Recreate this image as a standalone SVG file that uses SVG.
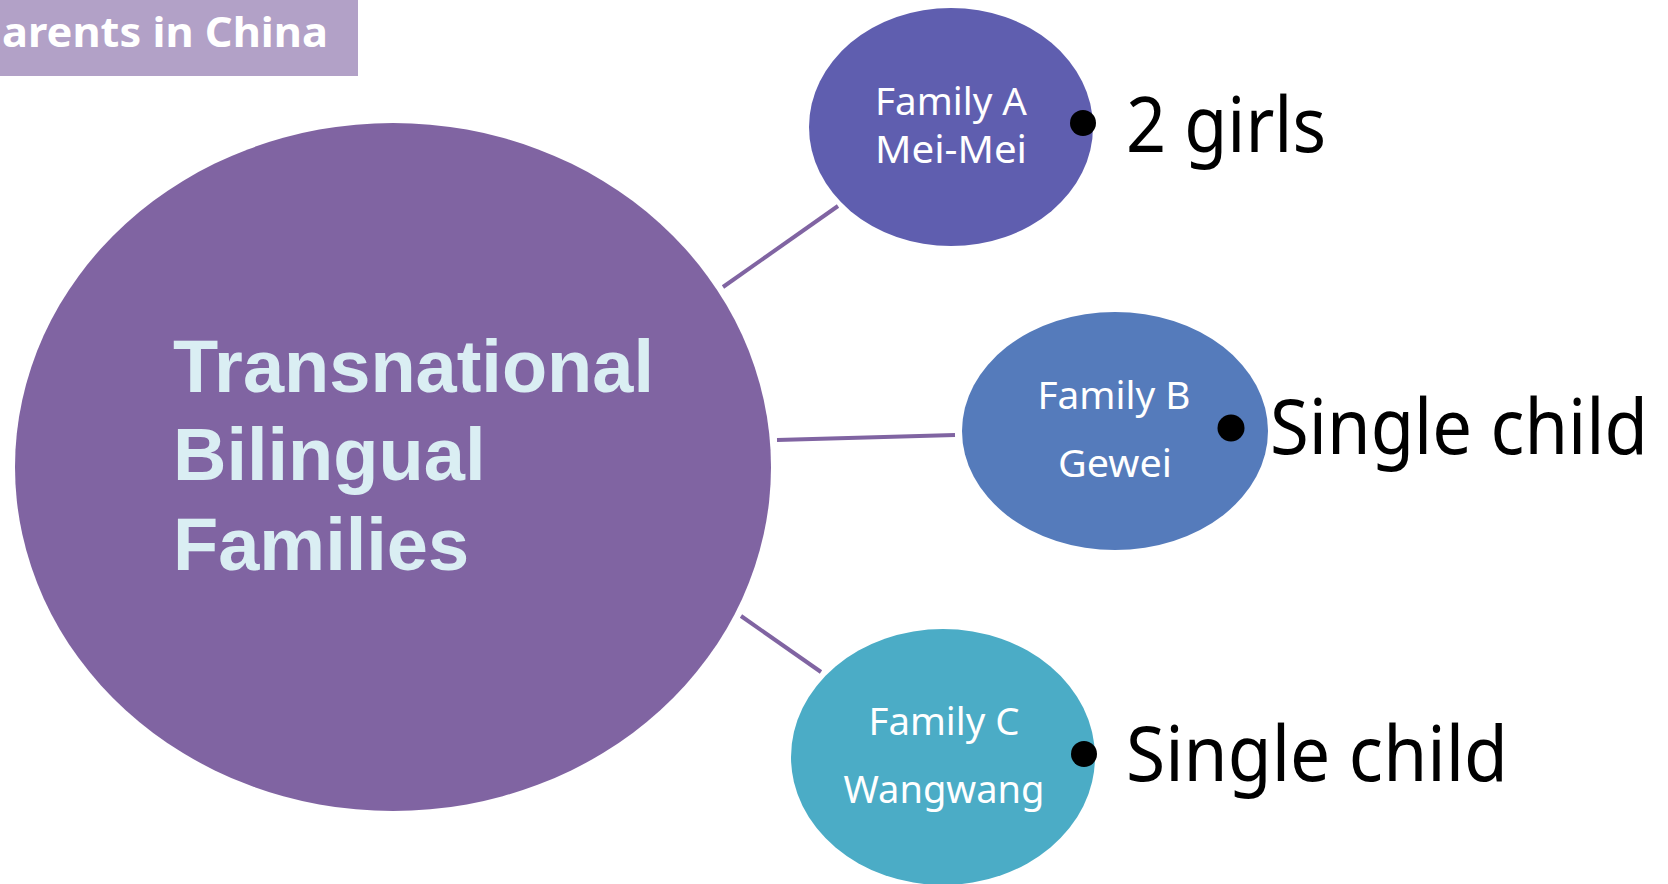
<svg xmlns="http://www.w3.org/2000/svg" width="1668" height="884" viewBox="0 0 1668 884">
<style>
.node-label{font-family:"Noto Sans","Open Sans",sans-serif;font-size:39px;fill:#FFFFFF;text-anchor:middle}
.big-label{font-family:"Noto Sans","Open Sans",sans-serif;font-size:77px;fill:#000000}
.center-label{font-family:"Liberation Sans",Arial,sans-serif;font-weight:bold;font-size:74px;fill:#DAEEF3}
.conn{stroke:#8064A2;stroke-width:4;fill:none}
.dot{fill:#000000}
</style>
<rect width="1668" height="884" fill="#FFFFFF"/>
<g id="title">
<rect x="0" y="0" width="358" height="76" fill="#B2A1C7"/>
<text x="2" y="47" font-family="'Noto Sans','Open Sans',sans-serif" font-weight="bold" font-size="42" fill="#FFFFFF" textLength="326" lengthAdjust="spacingAndGlyphs">arents in China</text>
</g>
<g id="connectors">
<line class="conn" x1="723" y1="287" x2="838" y2="206"/>
<line class="conn" x1="777" y1="440" x2="955" y2="435"/>
<line class="conn" x1="741" y1="616" x2="821" y2="672"/>
</g>
<g id="center">
<ellipse cx="393" cy="467" rx="378" ry="344" fill="#8064A2"/>
<text class="center-label" x="173" y="392" textLength="481" lengthAdjust="spacingAndGlyphs">Transnational</text>
<text class="center-label" x="173" y="480">Bilingual</text>
<text class="center-label" x="173" y="570">Families</text>
</g>
<g id="familyA">
<ellipse cx="951" cy="127" rx="142" ry="119" fill="#5F5EAF"/>
<text class="node-label" x="951" y="115" textLength="152" lengthAdjust="spacingAndGlyphs">Family A</text>
<text class="node-label" x="951" y="163" textLength="152" lengthAdjust="spacingAndGlyphs">Mei-Mei</text>
<circle class="dot" cx="1083" cy="123" r="13"/>
<text class="big-label" x="1126" y="152" textLength="200" lengthAdjust="spacingAndGlyphs">2 girls</text>
</g>
<g id="familyB">
<ellipse cx="1115" cy="431" rx="153" ry="119" fill="#557BBB"/>
<text class="node-label" x="1114" y="409" textLength="153" lengthAdjust="spacingAndGlyphs">Family B</text>
<text class="node-label" x="1115" y="477" textLength="114" lengthAdjust="spacingAndGlyphs">Gewei</text>
<circle class="dot" cx="1231" cy="428" r="13.5"/>
<text class="big-label" x="1270" y="454" textLength="378" lengthAdjust="spacingAndGlyphs">Single child</text>
</g>
<g id="familyC">
<ellipse cx="943" cy="757" rx="152" ry="128" fill="#4BACC6"/>
<text class="node-label" x="944" y="735" textLength="151" lengthAdjust="spacingAndGlyphs">Family C</text>
<text class="node-label" x="944" y="803" textLength="201" lengthAdjust="spacingAndGlyphs">Wangwang</text>
<circle class="dot" cx="1084" cy="754" r="13"/>
<text class="big-label" x="1126" y="781" textLength="382" lengthAdjust="spacingAndGlyphs">Single child</text>
</g>
</svg>
